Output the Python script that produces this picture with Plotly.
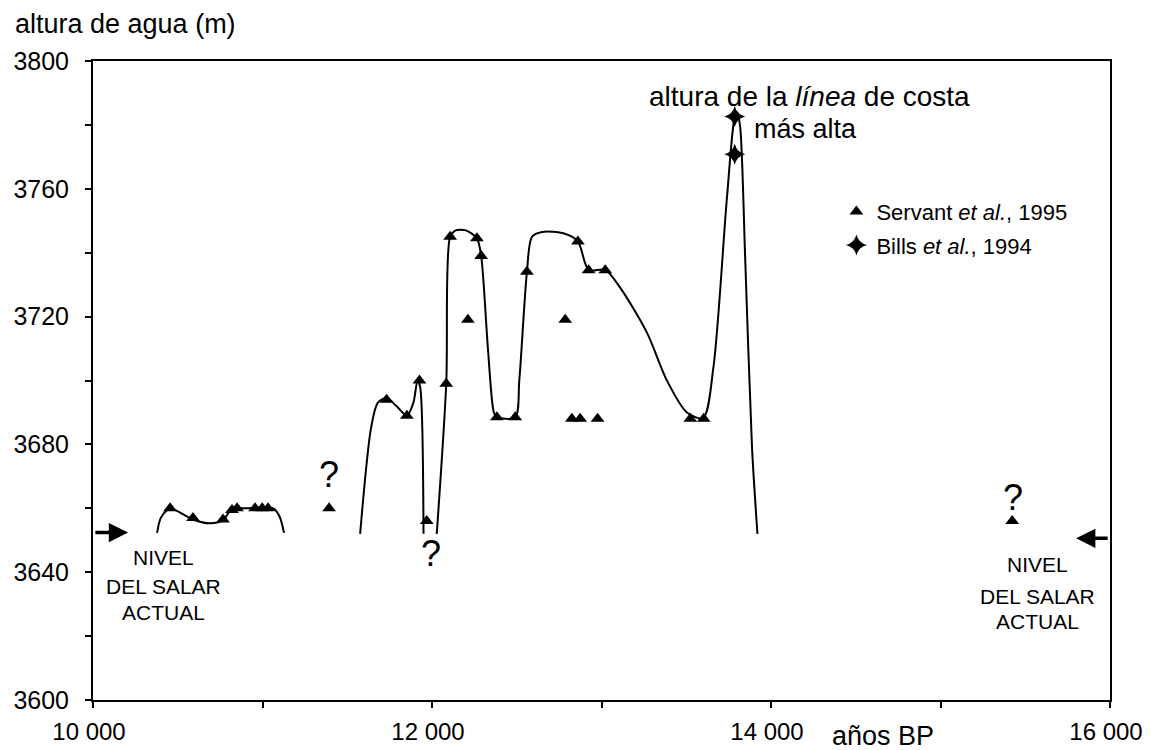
import plotly.graph_objects as go

# ---- data ----
# Servant et al., 1995 (triangles)
servant_x = [10455, 10590, 10767, 10820, 10850, 10956, 10998, 11033, 11393,
             11732, 11852, 11926, 11969, 12084, 12107, 12212, 12265, 12290,
             12383, 12491, 12560, 12786, 12825, 12874, 12977, 12861, 12924,
             13022, 13524, 13603, 15423]
servant_y = [3660, 3657, 3656.5, 3659.5, 3660, 3660, 3660, 3660, 3660,
             3694, 3689, 3700, 3656, 3699, 3745, 3719, 3744.5, 3739,
             3688.5, 3688.5, 3734, 3719, 3688, 3688, 3688, 3743.5, 3734.5,
             3734.5, 3688, 3688, 3656]
# Bills et al., 1994
bills_x = [13786, 13786]
bills_y = [3782.6, 3770.8]

# interpreted lake-level curve (segments separated by None)
curve_x = [10378, 10400, 10440, 10460, 10590, 10690, 10767, 10820, 10900, 11063, 11100, 11127, None,
           11576, 11640, 11680, 11732, 11790, 11852, 11890, 11915, 11930, 11950, None,
           12028, 12084, 12107, 12140, 12200, 12265, 12290, 12330, 12365, 12383, 12491, 12515,
           12560, 12590, 12650, 12780, 12861, 12924, 13022, 13111, 13268, 13386, 13504, 13600,
           13660, 13739, 13786, 13800, 13818, 13848, 13888, 13920]
curve_y = [3652.3, 3657, 3659.6, 3660, 3656.5, 3655.3, 3656.3, 3659.8, 3660, 3660, 3657.5, 3652.3, None,
           3652, 3685, 3693, 3694.5, 3692, 3689, 3693, 3700, 3698, 3652, None,
           3652, 3699, 3745, 3747, 3747, 3744.5, 3739, 3710, 3690, 3688.5, 3688.5, 3700,
           3734, 3745, 3746.5, 3746, 3743.5, 3734.6, 3734.6, 3729, 3715, 3700, 3690, 3688.3,
           3704, 3756.5, 3782.6, 3784, 3779.4, 3737.7, 3679, 3652]

x_ticks = [10000, 11000, 12000, 13000, 14000, 15000, 16000]
x_ticktext = ["10 000", "", "12 000", "", "14 000", "", "16 000"]
y_ticks = [3600, 3620, 3640, 3660, 3680, 3700, 3720, 3740, 3760, 3780, 3800]
y_ticktext = ["3600", "", "3640", "", "3680", "", "3720", "", "3760", "", "3800"]

current_level_left = 3652.4
current_level_right = 3650.6

FONT = "Liberation Sans, Arial, sans-serif"

fig = go.Figure()

fig.add_trace(go.Scatter(
    x=curve_x, y=curve_y, mode="lines",
    line=dict(color="black", width=2, shape="spline", smoothing=0.8),
    connectgaps=False, showlegend=False, hoverinfo="skip"))

fig.add_trace(go.Scatter(
    x=servant_x, y=servant_y, mode="markers",
    marker=dict(symbol="triangle-up", size=12, color="black"),
    name="Servant <i>et al.</i>, 1995", legendgroup="a"))

fig.add_trace(go.Scatter(
    x=bills_x, y=bills_y, mode="markers",
    marker=dict(symbol="star-diamond", size=15, color="black"),
    name="Bills <i>et al.</i>, 1994", legendgroup="b"))

annots = []
# title
annots.append(dict(xref="paper", yref="paper", x=-0.079, y=1.058, xanchor="left", yanchor="middle",
                   text="altura de agua (m)", showarrow=False, font=dict(size=27)))
annots.append(dict(x=14225, y=3789, text="altura de la <i>línea</i> de costa", showarrow=False,
                   font=dict(size=28), xanchor="center", yanchor="middle"))
annots.append(dict(x=14202, y=3778.7, text="más alta", showarrow=False,
                   font=dict(size=27), xanchor="center", yanchor="middle"))
# NIVEL DEL SALAR ACTUAL
for xx, ys in [(10413, [3644.5, 3635.5, 3627.3]), (15571, [3642.5, 3632.5, 3624.5])]:
    for t, yy in zip(["NIVEL", "DEL SALAR", "ACTUAL"], ys):
        annots.append(dict(x=xx, y=yy, text=t, showarrow=False, font=dict(size=21),
                           xanchor="center", yanchor="middle"))
# question marks
for xx, yy in [(11390, 3670.5), (11995, 3646), (15430, 3663.5)]:
    annots.append(dict(x=xx, y=yy, text="?", showarrow=False, font=dict(size=36),
                       xanchor="center", yanchor="middle"))
# x axis title
annots.append(dict(xref="paper", yref="paper", x=0.777, y=-0.056, text="años BP", showarrow=False,
                   font=dict(size=27), xanchor="center", yanchor="middle"))
# current level arrows
annots.append(dict(x=10207, y=current_level_left, ax=10005, ay=current_level_left,
                   xref="x", yref="y", axref="x", ayref="y", text="", showarrow=True,
                   arrowhead=2, arrowsize=1.1, arrowwidth=3.5, arrowcolor="black"))
annots.append(dict(x=15800, y=current_level_right, ax=15995, ay=current_level_right,
                   xref="x", yref="y", axref="x", ayref="y", text="", showarrow=True,
                   arrowhead=2, arrowsize=1.1, arrowwidth=3.5, arrowcolor="black"))

fig.update_layout(
    width=1151, height=750,
    margin=dict(l=85, r=49, t=53, b=58, autoexpand=False),
    paper_bgcolor="white", plot_bgcolor="white",
    font=dict(family=FONT, color="black", size=24),
    annotations=annots,
    showlegend=True,
    legend=dict(x=0.731, y=0.797, xanchor="left", yanchor="top", font=dict(size=22),
                bgcolor="rgba(0,0,0,0)", tracegroupgap=2, traceorder="grouped"),
    xaxis=dict(range=[10000, 16000], tickvals=x_ticks, ticktext=x_ticktext,
               ticks="outside", ticklen=6, tickwidth=1.5, tickcolor="black",
               showline=True, linecolor="black", linewidth=2, mirror=True,
               showgrid=False, zeroline=False, tickfont=dict(size=24),
               ticklabelstandoff=3, ticklabelshift=-4, automargin=False),
    yaxis=dict(range=[3600, 3800], tickvals=y_ticks, ticktext=y_ticktext,
               ticks="outside", ticklen=6, tickwidth=1.5, tickcolor="black",
               showline=True, linecolor="black", linewidth=2, mirror=True,
               showgrid=False, zeroline=False, tickfont=dict(size=25),
               ticklabelstandoff=11, automargin=False),
)

fig.write_html("out.html")
